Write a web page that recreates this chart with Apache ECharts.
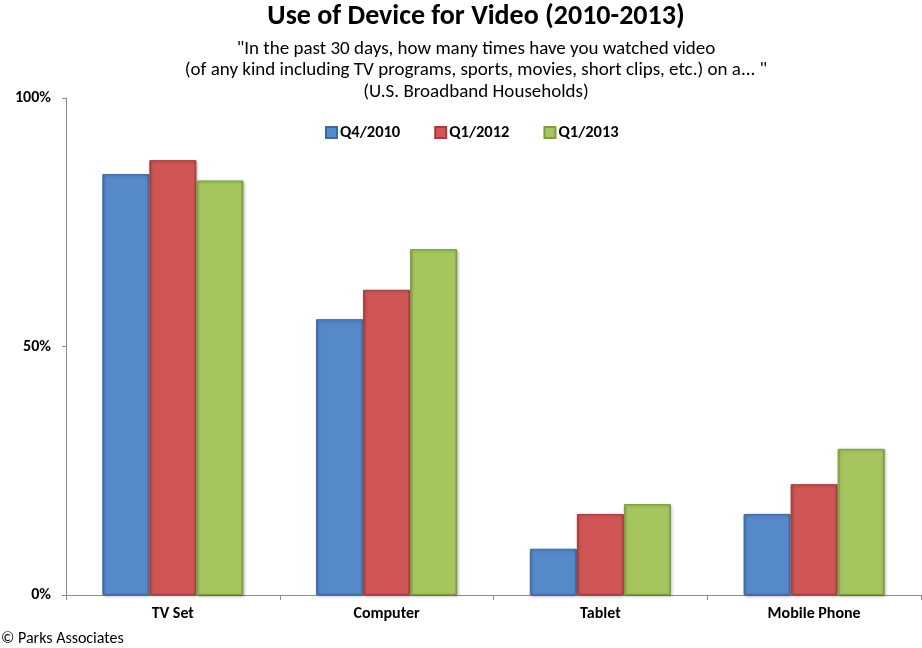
<!DOCTYPE html>
<html>
<head>
<meta charset="utf-8">
<script src="https://cdn.jsdelivr.net/npm/echarts@6/dist/echarts.min.js"></script>
<style>
  html, body { margin: 0; padding: 0; background: #fff; }
  #chart { width: 922px; height: 648px; }
</style>
</head>
<body>
<div id="chart"></div>
<script>
const devices = ['TV Set', 'Computer', 'Tablet', 'Mobile Phone'];
const q4_2010 = [84.7, 55.5, 9.3, 16.3];
const q1_2012 = [87.5, 61.4, 16.3, 22.3];
const q1_2013 = [83.4, 69.6, 18.3, 29.4];
const yTicks = [0, 50, 100];

const FONT = "Carlito, 'Liberation Sans Narrow', 'Open Sans', sans-serif";

// Excel-ish bevel look: darker edges on each bar
const bevel = (base, dark) => ({
  type: 'linear', x: 0, y: 0, x2: 1, y2: 0,
  colorStops: [
    { offset: 0, color: dark },
    { offset: 0.06, color: base },
    { offset: 0.94, color: base },
    { offset: 1, color: dark }
  ]
});

const makeSeries = (name, data, base, dark) => ({
  name: name,
  type: 'bar',
  data: data,
  barGap: '0%',
  barCategoryGap: '34%',
  itemStyle: {
    color: bevel(base, dark),
    borderColor: dark,
    borderWidth: 1,
    shadowColor: 'rgba(0,0,0,0.3)',
    shadowBlur: 3,
    shadowOffsetX: 1,
    shadowOffsetY: 1
  }
});

const chart = echarts.init(document.getElementById('chart'));
chart.setOption({
  animation: false,
  textStyle: { fontFamily: FONT },
  title: [{
    text: 'Use of Device for Video (2010-2013)',
    left: 471,
    top: -2,
    textAlign: 'center',
    textStyle: { fontFamily: FONT, fontSize: 28, fontWeight: 'bold', color: '#000' }
  }, {
    text: '"In the past 30 days, how many times have you watched video\n(of any kind including TV programs, sports, movies, short clips, etc.) on a... "\n(U.S. Broadband Households)',
    left: 471,
    top: 33,
    textAlign: 'center',
    textStyle: { fontFamily: FONT, fontSize: 19, fontWeight: 'normal', color: '#000', lineHeight: 21.5 }
  }],
  legend: {
    top: 119,
    left: 320,
    itemWidth: 11,
    itemHeight: 11,
    itemGap: 34,
    icon: 'rect',
    textStyle: { fontFamily: FONT, fontSize: 16.5, fontWeight: 'bold', color: '#000', padding: [0, 0, 0, -2] },
    data: ['Q4/2010', 'Q1/2012', 'Q1/2013']
  },
  grid: { left: 66, right: 1, top: 98, bottom: 53, containLabel: false },
  xAxis: {
    type: 'category',
    data: devices,
    axisLine: { lineStyle: { color: '#8c8c8c' } },
    axisTick: { show: true, length: 5, lineStyle: { color: '#8c8c8c' } },
    axisLabel: { margin: 11, fontFamily: FONT, fontSize: 16, fontWeight: 'bold', color: '#000' }
  },
  yAxis: {
    type: 'value',
    min: yTicks[0],
    max: yTicks[yTicks.length - 1],
    interval: yTicks[1] - yTicks[0],
    axisLine: { show: true, lineStyle: { color: '#8c8c8c' } },
    axisTick: { show: true, length: 4, lineStyle: { color: '#8c8c8c' } },
    splitLine: { show: false },
    axisLabel: { margin: 15, formatter: '{value}%', fontFamily: FONT, fontSize: 16, fontWeight: 'bold', color: '#000' }
  },
  graphic: [{
    type: 'text',
    left: 1,
    top: 631,
    style: { text: '\u00a9 Parks Associates', font: '16px ' + FONT, fill: '#000' }
  }],
  series: [
    makeSeries('Q4/2010', q4_2010, '#5689CA', '#3d6aa3'),
    makeSeries('Q1/2012', q1_2012, '#CF5654', '#a53c3a'),
    makeSeries('Q1/2013', q1_2013, '#A5C65F', '#7f9c42')
  ]
});
</script>
</body>
</html>
